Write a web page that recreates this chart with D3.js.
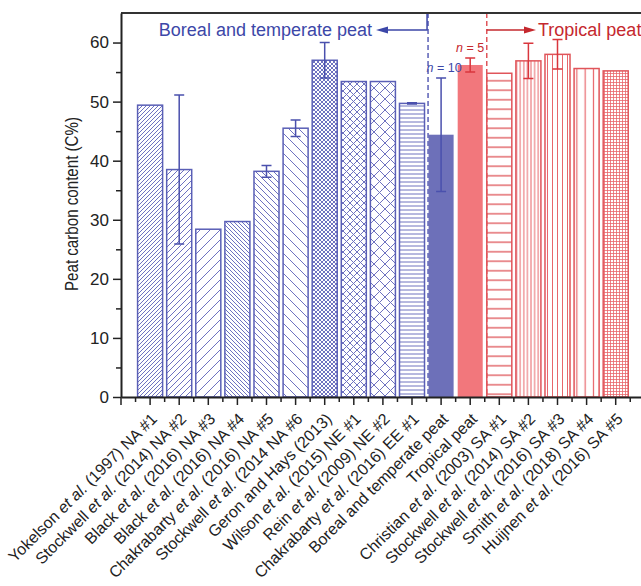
<!DOCTYPE html>
<html><head><meta charset="utf-8">
<script src="https://cdn.jsdelivr.net/npm/d3@7"></script>
<style>
body{margin:0;background:#fff}
svg{display:block}
text{font-family:"Liberation Sans",Arial,Helvetica,sans-serif}
</style>
</head><body>
<svg id="chart" width="641" height="586"></svg>
<script>
// ---------------- data ----------------
const categories = [
  "Yokelson et al. (1997) NA #1",
  "Stockwell et al. (2014) NA #2",
  "Black et al. (2016) NA #3",
  "Black et al. (2016) NA #4",
  "Chakrabarty et al. (2016) NA #5",
  "Stockwell et al. (2014 NA #6",
  "Geron and Hays (2013)",
  "Wilson et al. (2015) NE #1",
  "Rein et al. (2009) NE #2",
  "Chakrabarty et al. (2016) EE #1",
  "Boreal and temperate peat",
  "Tropical peat",
  "Christian et al. (2003) SA #1",
  "Stockwell et al. (2014) SA #2",
  "Stockwell et al. (2016) SA #3",
  "Smith et al. (2018) SA #4",
  "Huijnen et al. (2016) SA #5"
];
const carbon    = [49.4, 38.5, 28.4, 29.7, 38.2, 45.5, 57.0, 53.4, 53.4, 49.7, 44.4, 56.2, 54.8, 56.9, 58.0, 55.6, 55.2];
const carbonErr = [0, 12.6, 0, 0, 1.0, 1.4, 3.0, 0, 0, 0.1, 9.6, 1.2, 0, 3.0, 2.5, 0, 0];
const region    = ["boreal","boreal","boreal","boreal","boreal","boreal","boreal","boreal","boreal","boreal","boreal",
                   "tropical","tropical","tropical","tropical","tropical","tropical"];
const sampleN   = [{cat:"Boreal and temperate peat", n:"10"}, {cat:"Tropical peat", n:"5"}];
const yTicks    = [0, 10, 20, 30, 40, 50, 60];
const yMinorTicks = [5, 15, 25, 35, 45, 55];
const groupLabels = ["Boreal and temperate peat", "Tropical peat"];
const yTitle = "Peat carbon content (C%)";

// ---------------- styles ----------------
const fillStyle = ["fwd4","fwd6","fwd10","bwd4","bwd6","bwd10","x4","x7","x11","h4","solidB",
                   "solidR","h9","v4","v5","v8","grid3"];
const COL = {
  blueLine:"#5a5fb6", bluePat:"#6e72c0", blueText:"#3c47a8", blueFill:"#6d70b9", blueErr:"#4a50ad",
  redLine:"#e0555a", redPat:"#e8666b", redText:"#c5282e", redFill:"#f2777c", redErr:"#d9363d"
};

const svg = d3.select("#chart");
const plotL = 121, plotT = 13, plotB = 397, step = 29.1;

const x = d3.scaleBand().domain(categories)
  .range([plotL, plotL + step * 18]).paddingInner(0.14).paddingOuter(0.57);
const y = d3.scaleLinear().domain([0, 65]).range([plotB, plotT]);
const cx = c => x(c) + x.bandwidth() / 2;

// ---------------- patterns ----------------
const defs = svg.append("defs");
function pat(id, s, d, color, sw) {
  const p = defs.append("pattern").attr("id", id).attr("patternUnits", "userSpaceOnUse")
    .attr("width", s).attr("height", s);
  p.append("rect").attr("width", s).attr("height", s).attr("fill", "#fff");
  p.append("path").attr("d", d).attr("stroke", color).attr("stroke-width", sw).attr("fill", "none");
}
const fwd = s => `M0,${s} L${s},0 M${-s/2},${s/2} L${s/2},${-s/2} M${s/2},${s*1.5} L${s*1.5},${s/2}`;
const bwd = s => `M0,0 L${s},${s} M${-s/2},${s/2} L${s/2},${s*1.5} M${s/2},${-s/2} L${s*1.5},${s/2}`;
const hor = s => `M0,${s/2} H${s}`;
const ver = s => `M${s/2},0 V${s}`;
[["fwd4",4],["fwd6",6],["fwd10",10]].forEach(([id,s]) => pat(id, s, fwd(s), COL.bluePat, 1));
[["bwd4",4],["bwd6",6],["bwd10",10]].forEach(([id,s]) => pat(id, s, bwd(s), COL.bluePat, 1));
[["x4",4],["x7",7],["x11",11]].forEach(([id,s]) => pat(id, s, fwd(s) + " " + bwd(s), COL.bluePat, 1));
pat("h4", 4, hor(4), COL.bluePat, 1);
pat("h9", 9.5, hor(9.5), COL.redLine, 1.3);
pat("v4", 3.6, ver(3.6), COL.redPat, 1);
pat("v5", 5, ver(5), COL.redPat, 1);
pat("v8", 8.3, ver(8.3), COL.redPat, 1.2);
pat("grid3", 3, hor(3) + " " + ver(3), COL.redPat, 0.8);

// ---------------- bars ----------------
const rows = categories.map((c, i) => ({c, v: carbon[i], e: carbonErr[i], r: region[i], f: fillStyle[i]}));

svg.append("g").selectAll("rect").data(rows).join("rect")
  .attr("x", d => x(d.c)).attr("width", x.bandwidth())
  .attr("y", d => y(d.v)).attr("height", d => y(0) - y(d.v))
  .attr("fill", d => d.f === "solidB" ? COL.blueFill : d.f === "solidR" ? COL.redFill : `url(#${d.f})`)
  .attr("stroke", d => d.f.startsWith("solid") ? "none" : (d.r === "boreal" ? COL.blueLine : COL.redLine))
  .attr("stroke-width", 1.5);

// error bars
const eg = svg.append("g").selectAll("g").data(rows.filter(d => d.e > 0)).join("g")
  .attr("stroke", d => d.r === "boreal" ? COL.blueErr : COL.redErr).attr("stroke-width", 1.5).attr("fill", "none");
eg.append("path").attr("d", d => {
  const xc = cx(d.c), w = 5, y1 = y(d.v + d.e), y2 = y(d.v - d.e);
  return `M${xc},${y1} V${y2} M${xc - w},${y1} H${xc + w} M${xc - w},${y2} H${xc + w}`;
});

// sample sizes
const nt = svg.append("g").selectAll("text").data(sampleN).join("text")
  .attr("x", d => cx(d.cat) + (d.n === "10" ? 3 : 0))
  .attr("y", d => { const i = categories.indexOf(d.cat); return y(carbon[i] + carbonErr[i]) - 6; })
  .attr("text-anchor", "middle").attr("font-size", 12.5)
  .attr("fill", d => region[categories.indexOf(d.cat)] === "boreal" ? COL.blueText : COL.redText);
nt.append("tspan").attr("font-style", "italic").text("n");
nt.append("tspan").text(d => " = " + d.n);

// ---------------- divider lines & arrows ----------------
const iB = categories.indexOf("Boreal and temperate peat");
const iT = categories.indexOf("Tropical peat");
const blueX = (cx(categories[iB - 1]) + cx(categories[iB])) / 2 + 1.5;
const redX = (cx(categories[iT]) + cx(categories[iT + 1])) / 2 + 2;
const arrowY = 30;

svg.append("line").attr("x1", blueX).attr("x2", blueX).attr("y1", plotT).attr("y2", plotB)
  .attr("stroke", COL.blueLine).attr("stroke-width", 1.5).attr("stroke-dasharray", "5,3");
svg.append("line").attr("x1", redX).attr("x2", redX).attr("y1", plotT).attr("y2", plotB)
  .attr("stroke", COL.redLine).attr("stroke-width", 1.5).attr("stroke-dasharray", "5,3");

svg.append("path").attr("d", `M${blueX - 1},${plotT} V${arrowY} H${386}`)
  .attr("stroke", COL.blueText).attr("stroke-width", 1.5).attr("fill", "none");
svg.append("path").attr("d", `M${376},${arrowY} L${388},${arrowY - 3.5} L${388},${arrowY + 3.5} Z`)
  .attr("fill", COL.blueText);
svg.append("text").attr("x", 372).attr("y", 36).attr("text-anchor", "end")
  .attr("font-size", 18).attr("fill", COL.blueText).text(groupLabels[0]);

svg.append("path").attr("d", `M${redX},${arrowY} H${526}`)
  .attr("stroke", COL.redText).attr("stroke-width", 1.5).attr("fill", "none");
svg.append("path").attr("d", `M${536},${arrowY} L${524},${arrowY - 3.5} L${524},${arrowY + 3.5} Z`)
  .attr("fill", COL.redText);
svg.append("text").attr("x", 538).attr("y", 36)
  .attr("font-size", 18).attr("fill", COL.redText).text(groupLabels[1]);

// ---------------- axes ----------------
const axisCol = "#222";
svg.append("line").attr("x1", plotL).attr("x2", 650).attr("y1", plotT).attr("y2", plotT)
  .attr("stroke", "#333").attr("stroke-width", 2);

const yAxis = svg.append("g").attr("transform", `translate(${plotL},0)`)
  .call(d3.axisLeft(y).tickValues(yTicks).tickSize(8).tickSizeOuter(0).tickPadding(4));
svg.append("g").attr("transform", `translate(${plotL},0)`)
  .call(d3.axisLeft(y).tickValues(yMinorTicks).tickSize(5).tickFormat("").tickSizeOuter(0))
  .call(g => g.select(".domain").remove())
  .call(g => g.selectAll("line").attr("stroke", axisCol).attr("stroke-width", 1.5));
yAxis.selectAll("text").attr("font-size", 17).attr("font-family", null).attr("fill", axisCol);
yAxis.selectAll("line").attr("stroke", axisCol).attr("stroke-width", 1.5);
yAxis.select(".domain").attr("stroke", axisCol).attr("stroke-width", 2);

const xAxis = svg.append("g").attr("transform", `translate(0,${plotB})`)
  .call(d3.axisBottom(x).tickSize(8).tickSizeOuter(0).tickFormat(""));
xAxis.selectAll("line").attr("stroke", axisCol).attr("stroke-width", 1.5);
xAxis.select(".domain").attr("stroke", axisCol).attr("stroke-width", 2);
const minorX = categories.map(c => cx(c) - step / 2).concat([cx(categories[categories.length - 1]) + step / 2]);
svg.append("g").selectAll("line").data(minorX).join("line")
  .attr("x1", d => d).attr("x2", d => d).attr("y1", plotB).attr("y2", plotB + 5)
  .attr("stroke", axisCol).attr("stroke-width", 1.5);
svg.append("line").attr("x1", plotL).attr("x2", plotL).attr("y1", plotB).attr("y2", plotB + 8)
  .attr("stroke", axisCol).attr("stroke-width", 1.5);

// x labels
const xl = svg.append("g").selectAll("text").data(categories).join("text")
  .attr("transform", c => `translate(${cx(c) + 8},${plotB + 23}) rotate(-45)`)
  .attr("text-anchor", "end").attr("font-size", 16).attr("fill", axisCol);
xl.each(function(c) {
  const t = d3.select(this);
  const parts = c.split("et al.");
  if (parts.length === 2) {
    t.append("tspan").text(parts[0]);
    t.append("tspan").attr("font-style", "italic").text("et al.");
    t.append("tspan").text(parts[1]);
  } else t.text(c);
});

// y title
svg.append("text").attr("transform", `translate(78,204) rotate(-90)`)
  .attr("text-anchor", "middle").attr("font-size", 18).attr("fill", axisCol)
  .attr("textLength", 174).attr("lengthAdjust", "spacingAndGlyphs").text(yTitle);
</script>
</body></html>
